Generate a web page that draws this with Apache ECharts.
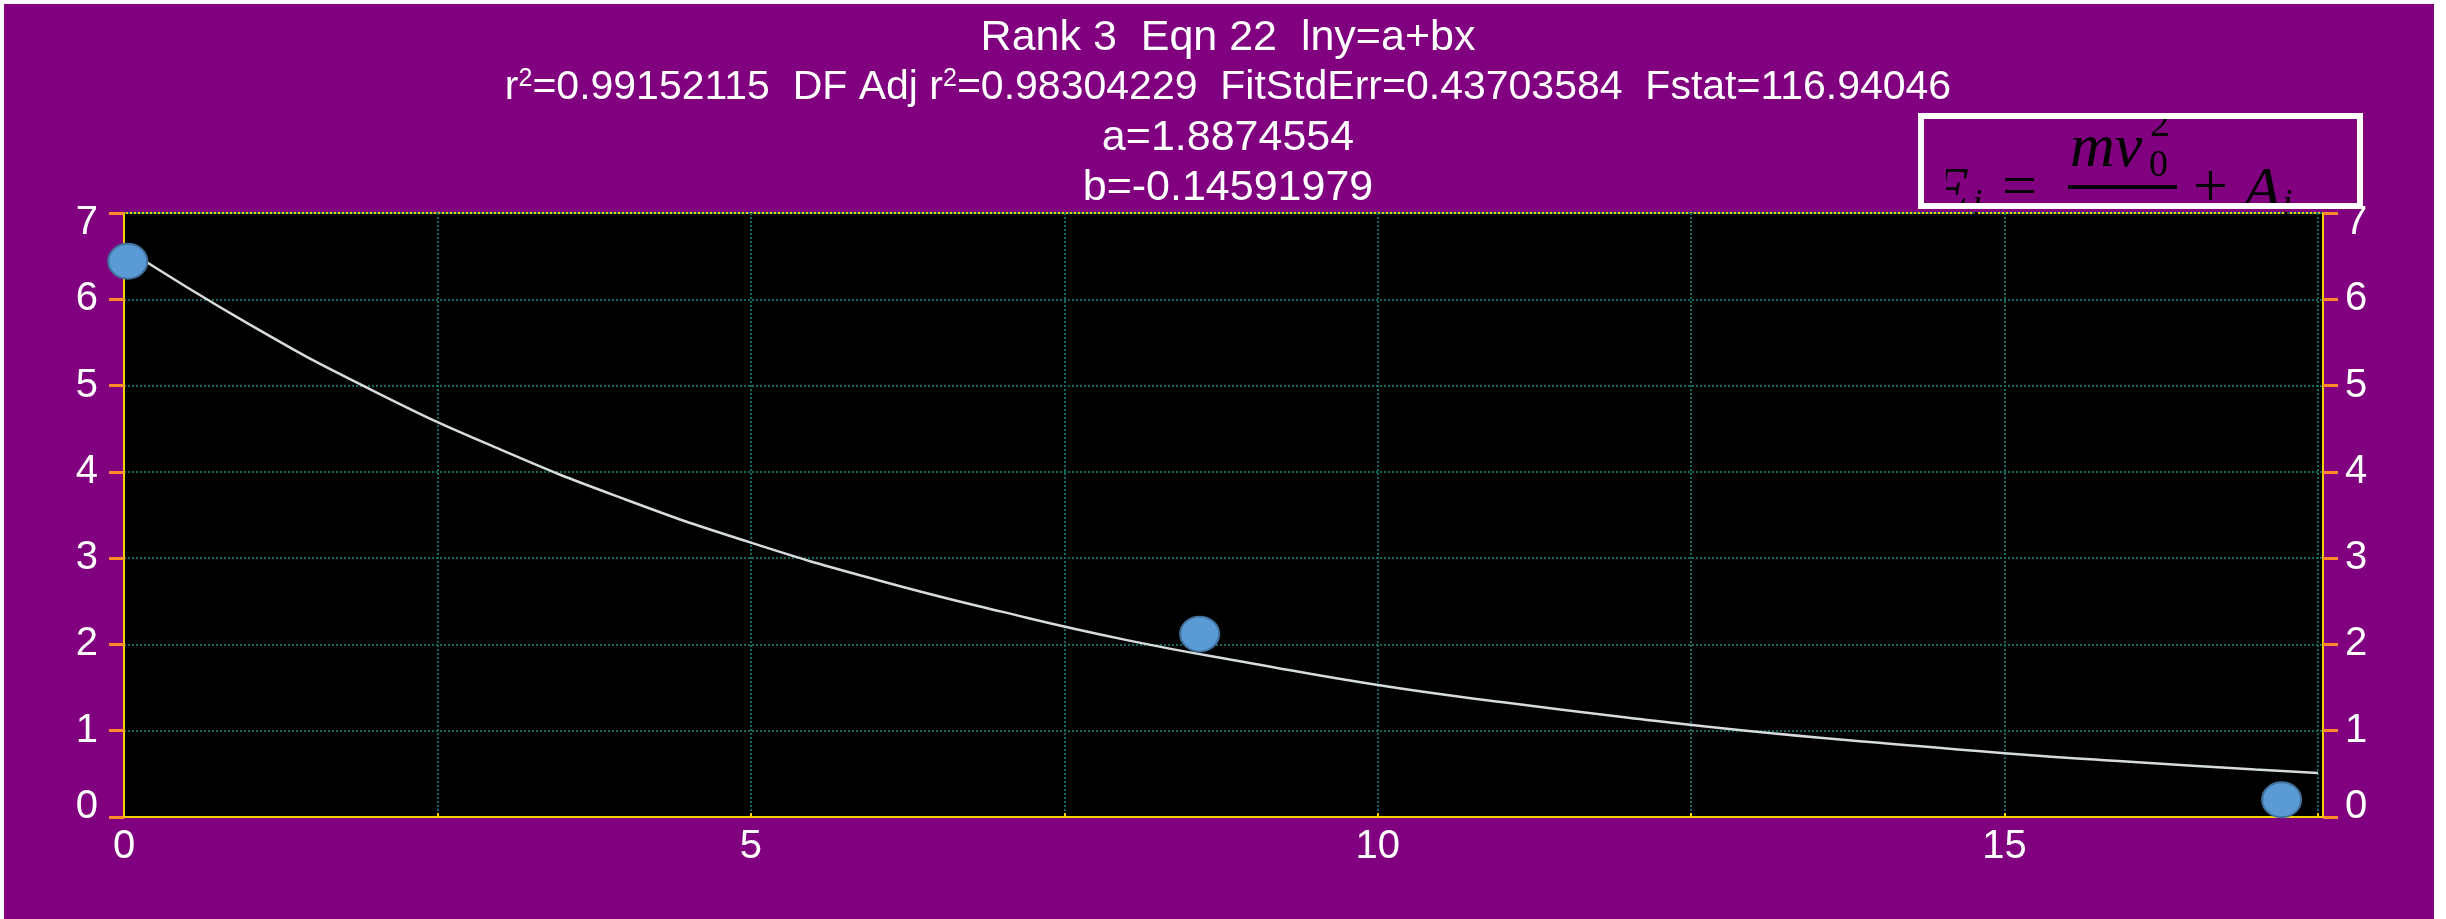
<!DOCTYPE html>
<html>
<head>
<meta charset="utf-8">
<script src="https://cdn.jsdelivr.net/npm/echarts@6/dist/echarts.min.js"></script>
<style>
  html, body { margin: 0; padding: 0; background: #fff; }
  #fitChart { position: absolute; left: 4px; top: 4px; width: 2430px; height: 915px; }
</style>
</head>
<body>
<div id="fitChart"></div>
<script>
// measured points
const pointX = [0.03, 8.58, 17.21]
const pointY = [6.44, 2.12, 0.2]
// fitted curve
const curveX = [0, 1, 2, 3, 4, 5, 6, 7, 8, 9, 10, 11, 12, 13, 14, 15, 16, 17, 17.5]
const curveY = [6.60, 5.71, 4.93, 4.26, 3.68, 3.18, 2.75, 2.38, 2.05, 1.78, 1.53, 1.33, 1.15, 0.99, 0.86, 0.74, 0.64, 0.55, 0.51]
// tick labels
const xLabels = [0, 5, 10, 15]
const yLabels = [0, 1, 2, 3, 4, 5, 6, 7]

const titleLines = [
    '{t|Rank 3  Eqn 22  lny=a+bx}',
    '{u|r}{s|2}{u|=0.99152115  DF Adj r}{s|2}{u|=0.98304229  FitStdErr=0.43703584  Fstat=116.94046}',
    '{t|a=1.8874554}',
    '{t|b=-0.14591979}'
]

const purple = '#800080'
const gridColor = '#126a5f'
const axisYellow = '#f0d000'
const tickOrange = '#ff8a2a'
const labelFont = 'Liberation Sans, Arial, sans-serif'
const mathFont = 'Liberation Serif, Times New Roman, serif'

const yAxisBase = (pos, margin) => ({
    type: 'value',
    position: pos,
    min: yLabels[0],
    max: yLabels[yLabels.length - 1],
    interval: 1,
    axisLine: { show: true, lineStyle: { color: axisYellow, width: 2 } },
    axisTick: { show: true, inside: false, length: 15, lineStyle: { color: tickOrange, width: 3 } },
    axisLabel: {
        color: '#fff',
        fontSize: 40,
        fontFamily: labelFont,
        margin: margin,
        // the end labels sit a bit inside the frame
        formatter: (v) => {
            if (v === yLabels[yLabels.length - 1]) return '{hi|' + v + '}'
            if (v === yLabels[0]) return '{lo|' + v + '}'
            return String(v)
        },
        rich: {
            hi: { color: '#fff', fontSize: 40, fontFamily: labelFont, padding: [20, 0, 0, 0] },
            lo: { color: '#fff', fontSize: 40, fontFamily: labelFont, padding: [0, 0, 20, 0] }
        }
    },
    splitLine: pos === 'left'
        ? { show: true, lineStyle: { color: gridColor, type: 'dotted', width: 2 } }
        : { show: false }
})

// helper for the formula pieces in the box
const mathText = (text, x, y, size, italic) => ({
    type: 'text',
    x: x - 4,
    y: y - 4,
    z: 10,
    style: {
        text: text,
        fill: '#000',
        font: (italic ? 'italic ' : '') + size + 'px ' + mathFont,
        verticalAlign: 'middle'
    }
})

const option = {
    backgroundColor: purple,
    animation: false,
    title: {
        text: titleLines.join('\n'),
        left: 1219,
        top: 4,
        textAlign: 'center',
        textStyle: {
            rich: {
                t: { color: '#fff', fontSize: 43, fontWeight: 'normal', fontFamily: labelFont, lineHeight: 50 },
                u: { color: '#fff', fontSize: 41, fontWeight: 'normal', fontFamily: labelFont, lineHeight: 50 },
                s: { color: '#fff', fontSize: 25, fontWeight: 'normal', fontFamily: labelFont, lineHeight: 25, verticalAlign: 'top', padding: [4, 0, 0, 0] }
            }
        }
    },
    grid: {
        left: 120,
        right: 111,
        top: 209,
        bottom: 102,
        show: true,
        backgroundColor: '#000',
        borderColor: axisYellow,
        borderWidth: 2
    },
    xAxis: {
        type: 'value',
        min: 0,
        max: 17.54,
        interval: 2.5,
        axisLine: { show: true, onZero: false, lineStyle: { color: axisYellow, width: 2 } },
        axisTick: { show: true, inside: true, length: 4, lineStyle: { color: axisYellow, width: 2 } },
        axisLabel: {
            color: '#fff',
            fontSize: 40,
            fontFamily: labelFont,
            margin: 10,
            formatter: (v) => (xLabels.indexOf(v) >= 0 ? String(v) : '')
        },
        splitLine: { show: true, lineStyle: { color: gridColor, type: 'dotted', width: 2 } }
    },
    yAxis: [yAxisBase('left', 26), yAxisBase('right', 22)],
    series: [
        {
            type: 'line',
            data: curveX.map((x, i) => [x, curveY[i]]),
            smooth: true,
            showSymbol: false,
            lineStyle: { color: '#d6dcdc', width: 2.5 },
            z: 3
        },
        {
            type: 'scatter',
            data: pointX.map((x, i) => [x, pointY[i]]),
            symbol: 'circle',
            symbolSize: [39, 35],
            clip: false,
            itemStyle: { color: '#5b9bd5', opacity: 1, borderColor: '#41719c', borderWidth: 2 },
            z: 5
        }
    ],
    graphic: [
        mathText('E', 1931, 193, 62, true),
        mathText('i', 1972, 205, 38, true),
        mathText('=', 2002, 190, 62, false),
        mathText('mv', 2070, 150, 62, true),
        mathText('0', 2149, 166, 38, false),
        mathText('2', 2150, 125, 40, false),
        {
            type: 'rect', z: 10,
            shape: { x: 2068 - 4, y: 185 - 4, width: 109, height: 4 },
            style: { fill: '#000' }
        },
        mathText('+', 2193, 190, 62, false),
        mathText('A', 2243, 193, 62, true),
        mathText('i', 2282, 205, 38, true),
        // box clips the formula
        {
            type: 'rect', z: 11,
            shape: { x: 1915 - 4, y: 102 - 4, width: 452, height: 12 },
            style: { fill: purple }
        },
        {
            type: 'rect', z: 11,
            shape: { x: 1924 - 4, y: 119 - 4, width: 22, height: 84 },
            style: { fill: purple }
        },
        {
            type: 'rect', z: 11,
            shape: { x: 1910 - 4, y: 209 - 4, width: 430, height: 3 },
            style: { fill: purple }
        },
        {
            type: 'rect', z: 12,
            shape: { x: 1921 - 4, y: 116 - 4, width: 439, height: 90 },
            style: { fill: 'none', stroke: '#fff', lineWidth: 6 }
        }
    ]
}

const myChart = echarts.init(document.getElementById('fitChart'))
myChart.setOption(option)
</script>
</body>
</html>
